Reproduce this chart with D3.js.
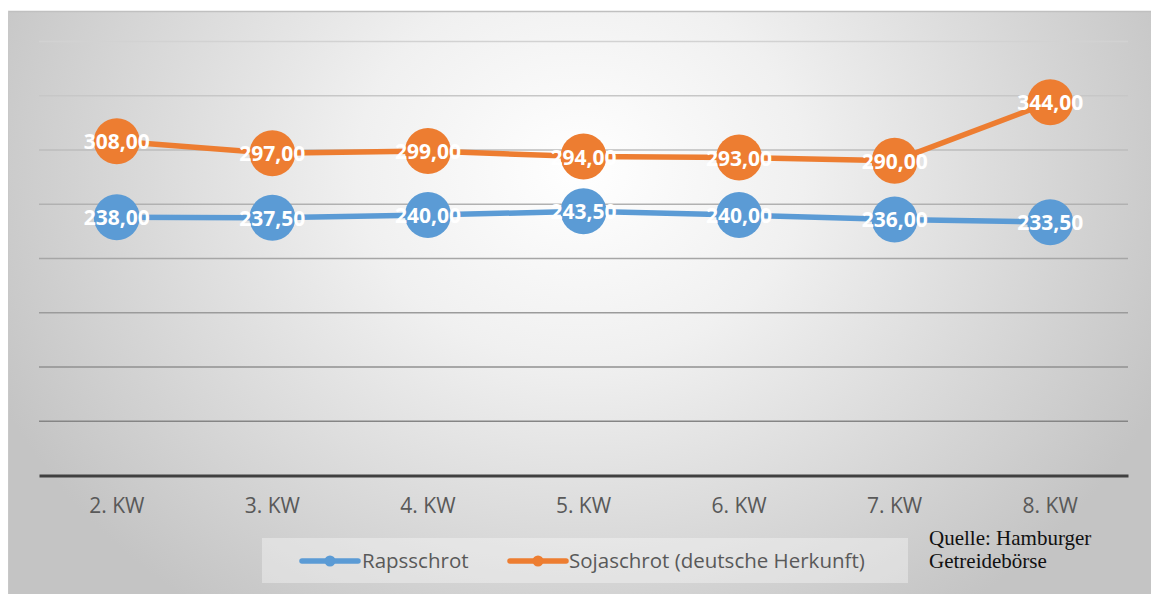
<!DOCTYPE html>
<html><head><meta charset="utf-8">
<script src="https://cdn.jsdelivr.net/npm/d3@7"></script>
<style>
html,body{margin:0;padding:0;background:#fff;}
svg{display:block;}
</style></head>
<body>
<script>
const categories = ["2. KW","3. KW","4. KW","5. KW","6. KW","7. KW","8. KW"];
const rapsschrot = [238.00, 237.50, 240.00, 243.50, 240.00, 236.00, 233.50];
const sojaschrot = [308.00, 297.00, 299.00, 294.00, 293.00, 290.00, 344.00];
const seriesNames = ["Rapsschrot", "Sojaschrot (deutsche Herkunft)"];
const yTicks = [0, 50, 100, 150, 200, 250, 300, 350, 400];
const sourceLines = ["Quelle: Hamburger", "Getreidebörse"];

const W = 1151, H = 594;
const svg = d3.select("body").append("svg").attr("width", W).attr("height", H);
const defs = svg.append("defs");
const rg = defs.append("radialGradient").attr("id","bg")
  .attr("gradientUnits","userSpaceOnUse")
  .attr("cx", 580).attr("cy", 170).attr("r", 640)
  .attr("gradientTransform","translate(580,170) scale(1,0.85) translate(-580,-170)");
rg.append("stop").attr("offset","0%").attr("stop-color","#ffffff");
rg.append("stop").attr("offset","35%").attr("stop-color","#f0f0f0");
rg.append("stop").attr("offset","100%").attr("stop-color","#c4c4c4");

svg.append("rect").attr("x",8).attr("y",11).attr("width",W-8).attr("height",H-11)
  .attr("fill","url(#bg)");
svg.append("line").attr("x1",8).attr("x2",W).attr("y1",11.5).attr("y2",11.5)
  .attr("stroke","#c0c0c0").attr("stroke-width",1.5);
svg.append("line").attr("x1",8.5).attr("x2",8.5).attr("y1",11).attr("y2",H)
  .attr("stroke","#c8c8c8").attr("stroke-width",1);

const x = d3.scaleBand().domain(categories).range([39, 1128]);
const y = d3.scaleLinear().domain([0, 400]).range([475.5, 41.5]);

const gridColor = d3.scaleLinear().domain([400, 50]).range(["#d2d2d2", "#858585"]);
svg.append("g").selectAll("line").data(yTicks.filter(d => d > 0)).join("line")
  .attr("x1", 39).attr("x2", 1128)
  .attr("y1", d => y(d)).attr("y2", d => y(d))
  .attr("stroke", d => gridColor(d)).attr("stroke-width", 1.5);

const xAxis = svg.append("g").attr("transform", `translate(0,${y(0)})`)
  .call(d3.axisBottom(x).tickSize(0).tickPadding(23));
xAxis.select(".domain").attr("stroke","#404040").attr("stroke-width",3);
xAxis.selectAll("text").attr("font-family","'Open Sans', sans-serif")
  .attr("font-size", 21).attr("fill","#595959");

const cx = d => x(d) + x.bandwidth()/2;
const series = [
  {name: seriesNames[0], values: rapsschrot, color: "#5b9bd5"},
  {name: seriesNames[1], values: sojaschrot, color: "#ed7d31"}
];
const line = d3.line().x((d,i) => cx(categories[i])).y(d => y(d));

series.forEach(s => {
  const g = svg.append("g");
  g.append("path").datum(s.values).attr("d", line)
    .attr("fill","none").attr("stroke", s.color).attr("stroke-width", 5.5)
    .attr("stroke-linejoin","round").attr("stroke-linecap","round");
  g.selectAll("circle").data(s.values).join("circle")
    .attr("cx", (d,i) => cx(categories[i])).attr("cy", d => y(d))
    .attr("r", 23).attr("fill", s.color);
  g.selectAll("text").data(s.values).join("text")
    .attr("x", (d,i) => cx(categories[i])).attr("y", d => y(d) + 8)
    .attr("text-anchor","middle")
    .attr("font-family","'Open Sans', sans-serif").attr("font-weight","bold")
    .attr("font-size", 21).attr("fill","#fff")
    .text(d => d.toFixed(2).replace(".", ","));
});

// legend
const lg = svg.append("g");
lg.append("rect").attr("x",262).attr("y",538).attr("width",646).attr("height",45)
  .attr("fill","#ffffff").attr("fill-opacity",0.35);
const legendPos = [{x:302, tx:362}, {x:510, tx:569}];
series.forEach((s,i) => {
  const p = legendPos[i];
  lg.append("line").attr("x1",p.x).attr("x2",p.x+56).attr("y1",561).attr("y2",561)
    .attr("stroke", s.color).attr("stroke-width",5.5).attr("stroke-linecap","round");
  lg.append("circle").attr("cx",p.x+28).attr("cy",561).attr("r",5.5).attr("fill",s.color);
  lg.append("text").attr("x",p.tx).attr("y",568)
    .attr("font-family","'Open Sans', sans-serif").attr("font-size",20.5).attr("fill","#595959")
    .text(s.name);
});

// source
svg.append("g").selectAll("text").data(sourceLines).join("text")
  .attr("x", 929).attr("y", (d,i) => 545 + i*23)
  .attr("font-family","'Liberation Serif', 'Times New Roman', serif")
  .attr("font-size", 21).attr("fill","#111")
  .text(d => d);
</script>
</body></html>
